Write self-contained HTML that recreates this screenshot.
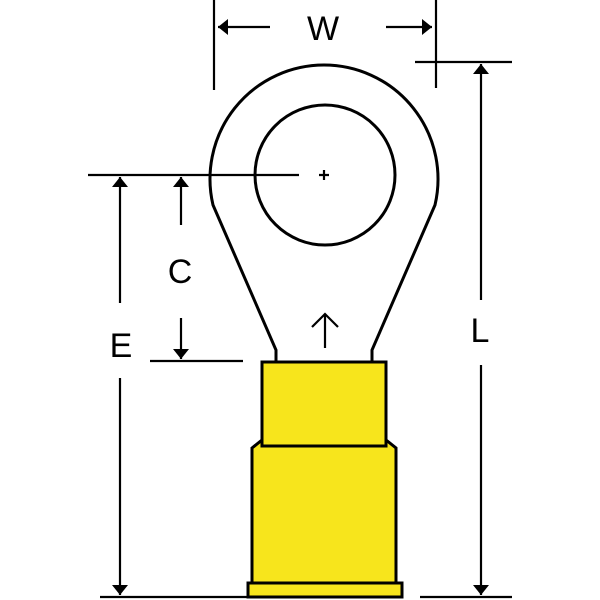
<!DOCTYPE html>
<html><head><style>body{margin:0;background:#fff}svg{display:block}</style></head><body>
<svg width="600" height="600" viewBox="0 0 600 600" xmlns="http://www.w3.org/2000/svg">
<defs><marker id="a" viewBox="0 0 10 10" refX="10" refY="5" markerWidth="7" markerHeight="7" orient="auto-start-reverse" markerUnits="userSpaceOnUse"><path d="M0,0L10,5L0,10z" fill="#000"/></marker>
<marker id="b" viewBox="0 0 10 16" refX="10" refY="8" markerWidth="10" markerHeight="16" orient="auto" markerUnits="userSpaceOnUse"><path d="M0,0L10,8L0,16z" fill="#000"/></marker></defs>
<g stroke="#000" stroke-width="3" fill="none">
<path d="M276,362 L276,350 L213,205 A114,114 0 1 1 435,205 L372,350 L372,362" fill="#fff"/>
<circle cx="325" cy="175" r="70"/>
<path d="M252,448 L262,440 L386,440 L396,448 L396,583 L252,583 Z" fill="#f7e51c"/>
<rect x="262" y="362" width="124" height="84" fill="#f7e51c"/>
<rect x="248" y="583" width="154" height="14" fill="#f7e51c"/>
</g>
<g stroke="#000" stroke-width="2.2" fill="none">
<path d="M319,175h10M324,170v10"/>
<path d="M214,0V90M436,0V88M415,62H512M88,175H299M150,361H243M100,597H250M420,597H512"/>
<path d="M325,348V314M312,327L325,314L338,327"/>
<line x1="270" y1="27" x2="218" y2="27" marker-end="url(#b)"/>
<line x1="386" y1="27" x2="432" y2="27" marker-end="url(#b)"/>
<line x1="481" y1="300" x2="481" y2="64" marker-end="url(#b)"/>
<line x1="481" y1="365" x2="481" y2="595" marker-end="url(#b)"/>
<line x1="120" y1="303" x2="120" y2="177" marker-end="url(#b)"/>
<line x1="120" y1="378" x2="120" y2="595" marker-end="url(#b)"/>
<line x1="181" y1="225" x2="181" y2="177" marker-end="url(#b)"/>
<line x1="181" y1="318" x2="181" y2="359" marker-end="url(#b)"/>
</g>
<g font-family="Liberation Sans, sans-serif" font-size="34" text-anchor="middle" fill="#000">
<text x="323" y="40">W</text>
<text x="180" y="283">C</text>
<text x="121" y="357">E</text>
<text x="480" y="342">L</text>
</g>
</svg>
</body></html>
